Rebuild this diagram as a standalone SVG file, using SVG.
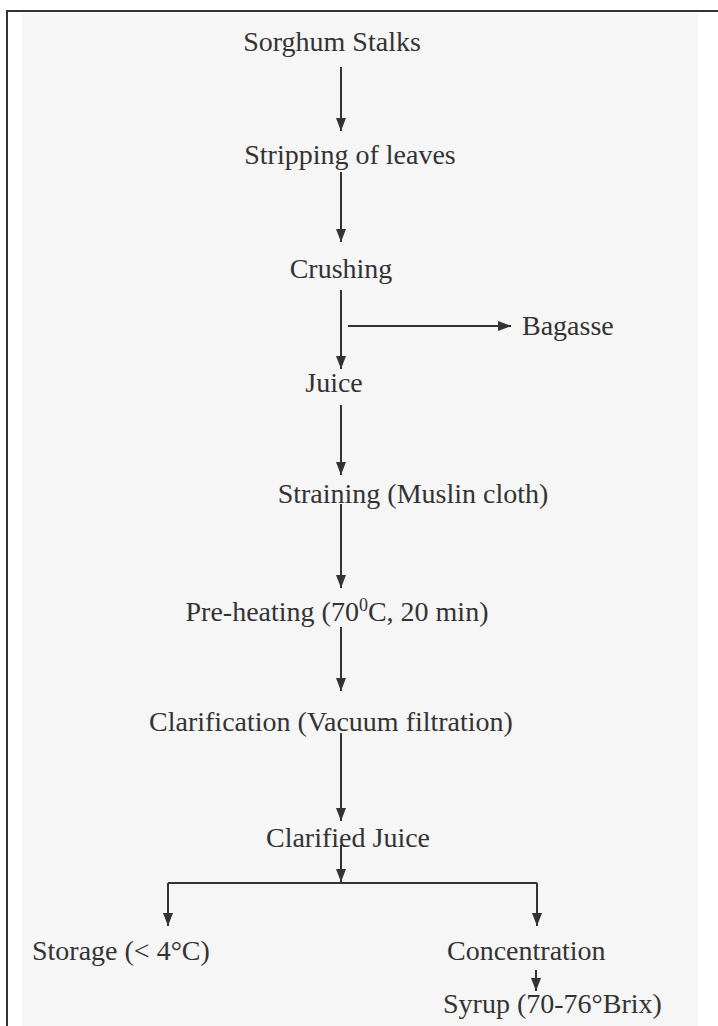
<svg xmlns="http://www.w3.org/2000/svg" width="718" height="1026" viewBox="0 0 718 1026">
<defs>
<style>
.t{font-family:"Liberation Serif","Times New Roman",serif;font-size:28px;fill:#333;}
.c{stroke:#333;stroke-width:2;fill:none;}
.a{marker-end:url(#ah);}
</style>
<marker id="ah" viewBox="0 0 13 10" refX="13" refY="5" markerWidth="13" markerHeight="11" orient="auto" markerUnits="userSpaceOnUse">
<path d="M0,0 L13,5 L0,10 z" fill="#333"/>
</marker>
</defs>
<rect x="0" y="0" width="718" height="1026" fill="#ffffff"/>
<rect x="22" y="13" width="676" height="1013" fill="#f6f6f6"/>
<path d="M7,1026 V11 H718" stroke="#333" stroke-width="2" fill="none"/>
<g id="connectors">
<line class="c a" x1="341" y1="67" x2="341" y2="131"/>
<line class="c a" x1="341" y1="172" x2="341" y2="242"/>
<line class="c a" x1="341" y1="290" x2="341" y2="369"/>
<line class="c a" x1="348" y1="326" x2="511" y2="326"/>
<line class="c a" x1="341" y1="405" x2="341" y2="475"/>
<line class="c a" x1="341" y1="504" x2="341" y2="588"/>
<line class="c a" x1="341" y1="627" x2="341" y2="691"/>
<line class="c a" x1="341" y1="733" x2="341" y2="821"/>
<line class="c a" x1="341" y1="845" x2="341" y2="882"/>
<line class="c" x1="168" y1="883" x2="537" y2="883"/>
<line class="c a" x1="168" y1="883" x2="168" y2="926"/>
<line class="c a" x1="537" y1="883" x2="537" y2="926"/>
<line class="c a" x1="536" y1="970" x2="536" y2="991"/>
</g>
<g id="n1"><text class="t" x="332" y="51" text-anchor="middle">Sorghum Stalks</text></g>
<g id="n2"><text class="t" x="350" y="164" text-anchor="middle">Stripping of leaves</text></g>
<g id="n3"><text class="t" x="341" y="278" text-anchor="middle">Crushing</text></g>
<g id="n4"><text class="t" x="522" y="335">Bagasse</text></g>
<g id="n5"><text class="t" x="334" y="392" text-anchor="middle">Juice</text></g>
<g id="n6"><text class="t" x="413" y="503" text-anchor="middle">Straining (Muslin cloth)</text></g>
<g id="n7"><text class="t" x="337" y="621" text-anchor="middle">Pre-heating (70<tspan font-size="18" dy="-10">0</tspan><tspan dy="10">C, 20 min)</tspan></text></g>
<g id="n8"><text class="t" x="331" y="731" text-anchor="middle">Clarification (Vacuum filtration)</text></g>
<g id="n9"><text class="t" x="348" y="847" text-anchor="middle">Clarified Juice</text></g>
<g id="n10"><text class="t" x="32" y="960">Storage (&lt; 4°C)</text></g>
<g id="n11"><text class="t" x="447" y="960">Concentration</text></g>
<g id="n12"><text class="t" x="443" y="1013">Syrup (70-76°Brix)</text></g>
</svg>
